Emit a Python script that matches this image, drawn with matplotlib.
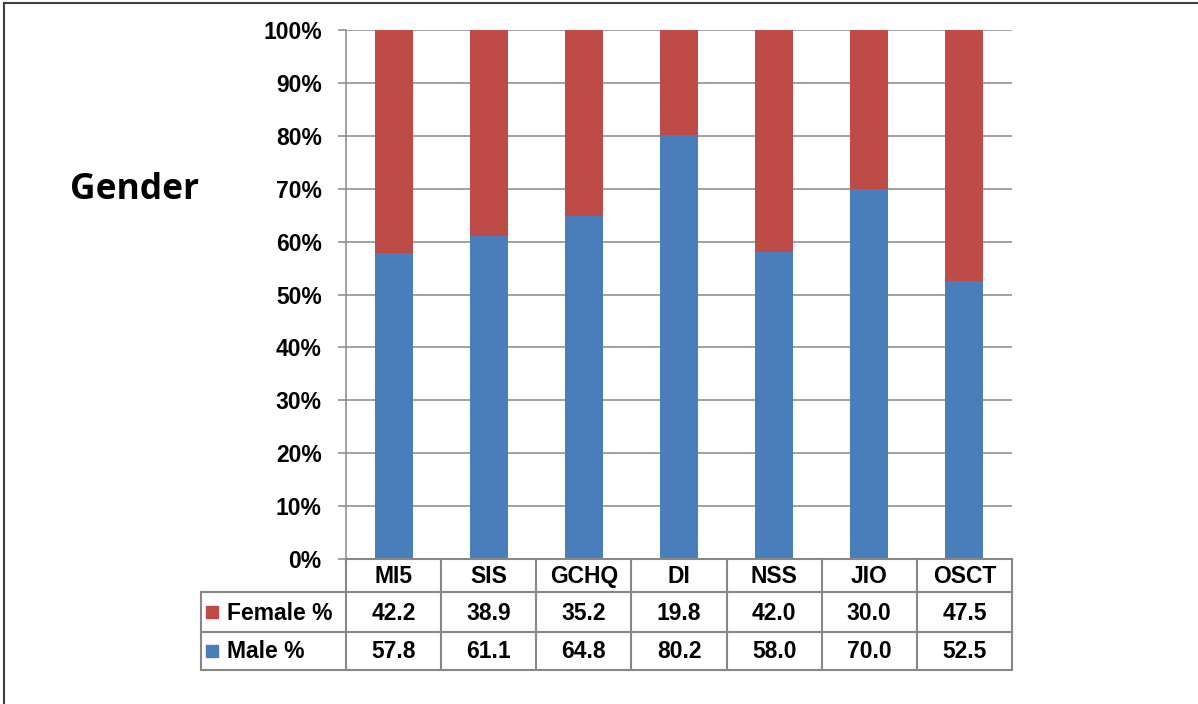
import matplotlib
matplotlib.use("Agg")
import matplotlib.pyplot as plt
from matplotlib.transforms import blended_transform_factory
from matplotlib.lines import Line2D
from matplotlib.patches import Rectangle

categories = ["MI5", "SIS", "GCHQ", "DI", "NSS", "JIO", "OSCT"]
female = [42.2, 38.9, 35.2, 19.8, 42.0, 30.0, 47.5]
male = [57.8, 61.1, 64.8, 80.2, 58.0, 70.0, 52.5]
yticks = [0, 10, 20, 30, 40, 50, 60, 70, 80, 90, 100]
ytick_labels = [f"{v}%" for v in yticks]
series_names = ["Female %", "Male %"]

BLUE = "#4A7EBB"
RED = "#BE4B48"
GRID = "#878787"
W, H = 1198, 704

fig = plt.figure(figsize=(W / 100, H / 100), dpi=100)
fig.patch.set_facecolor("white")

ax_l, ax_r, ax_t, ax_b = 346, 1012, 30, 559
ax = fig.add_axes([ax_l / W, 1 - ax_b / H, (ax_r - ax_l) / W, (ax_b - ax_t) / H])

x = list(range(len(categories)))
tot = [m + f for m, f in zip(male, female)]
male_pct = [100 * m / t for m, t in zip(male, tot)]
female_pct = [100 * f / t for f, t in zip(female, tot)]
ax.bar(x, male_pct, width=0.4, color=BLUE, zorder=3)
ax.bar(x, female_pct, width=0.4, bottom=male_pct, color=RED, zorder=3)

ax.set_xlim(-0.5, len(categories) - 0.5)
ax.set_ylim(0, 100)
ax.set_yticks(yticks)
ax.set_yticklabels(ytick_labels, fontfamily="Liberation Sans", fontweight="bold", fontsize=16.5)
ax.set_xticks([])
ax.tick_params(axis="y", length=6, width=1.1, color=GRID, pad=11.5)
ax.grid(axis="y", color=GRID, linewidth=1.1, zorder=0)
for s in ["top", "right", "bottom"]:
    ax.spines[s].set_visible(False)
ax.spines["left"].set_color(GRID)
ax.spines["left"].set_linewidth(1.1)

# Data table
tr = blended_transform_factory(ax.transData, ax.transAxes)
axh = ax_b - ax_t
def ya(p):
    return (ax_b - p) / axh

row_edges = [559, 592, 632, 670]
step = (ax_r - ax_l) / len(categories)
left_edge = -0.5 - (ax_l - 201) / step
lw = 1.5
lkw = dict(color=GRID, linewidth=lw, transform=tr, clip_on=False, zorder=5)

for k in range(len(categories) + 1):
    xv = -0.5 + k
    ax.add_line(Line2D([xv, xv], [ya(559), ya(670)], **lkw))
ax.add_line(Line2D([left_edge, left_edge], [ya(592), ya(670)], **lkw))
ax.add_line(Line2D([-0.5, len(categories) - 0.5], [ya(559), ya(559)], **lkw))
for p in row_edges[1:]:
    ax.add_line(Line2D([left_edge, len(categories) - 0.5], [ya(p), ya(p)], **lkw))

tkw = dict(transform=tr, ha="center", va="center", fontfamily="Liberation Sans",
           fontweight="bold", fontsize=16.5, clip_on=False)
for i, c in enumerate(categories):
    ax.text(i, ya((559 + 592) / 2 + 1), c, **tkw)
    ax.text(i, ya((592 + 632) / 2 + 1), f"{female[i]:.1f}", **tkw)
    ax.text(i, ya((632 + 670) / 2 + 1), f"{male[i]:.1f}", **tkw)

for name, col, (p0, p1) in zip(series_names, [RED, BLUE], [(592, 632), (632, 670)]):
    yc = (p0 + p1) / 2
    sq = 12
    fig.patches.append(Rectangle((206 / W, 1 - (yc + sq / 2) / H), sq / W, sq / H,
                                 transform=fig.transFigure, color=col, zorder=6))
    fig.text(227 / W, 1 - (yc + 1) / H, name, ha="left", va="center",
             fontfamily="Liberation Sans", fontweight="bold", fontsize=16.5)

fig.text(135 / W, 1 - 190 / H, "Gender", ha="center", va="center",
         fontfamily="Open Sans", fontweight="bold", fontsize=25.5)

# border
fig.add_artist(Line2D([4 / W, 4 / W], [0, 1 - 3 / H], color="#404040", linewidth=1.5,
                      transform=fig.transFigure))
fig.add_artist(Line2D([4 / W, 1], [1 - 3 / H, 1 - 3 / H], color="#404040", linewidth=1.5,
                      transform=fig.transFigure))

fig.savefig("out.png", dpi=100, facecolor="white")
